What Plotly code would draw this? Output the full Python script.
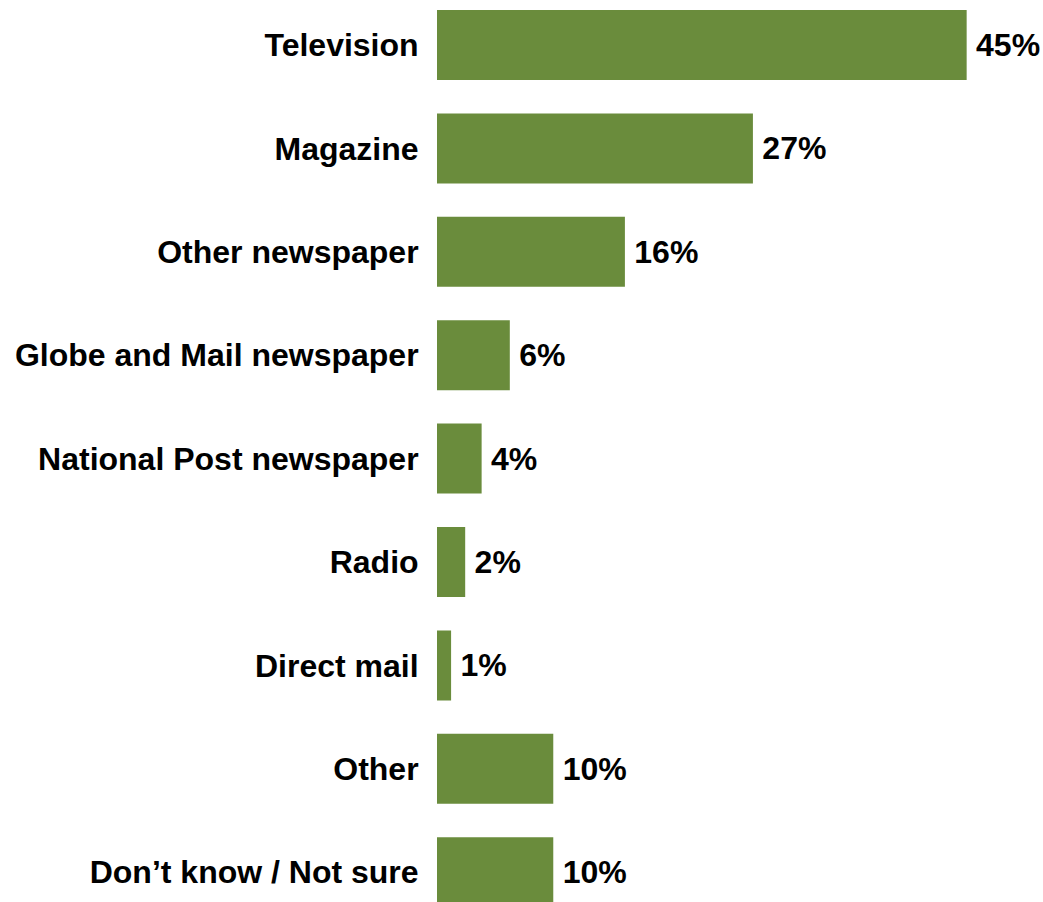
import plotly.graph_objects as go

categories = [
    "Television",
    "Magazine",
    "Other newspaper",
    "Globe and Mail newspaper",
    "National Post newspaper",
    "Radio",
    "Direct mail",
    "Other",
    "Don’t know / Not sure",
]
values = [45.1, 26.9, 16.0, 6.2, 3.8, 2.4, 1.2, 9.9, 9.9]
labels = ["45%", "27%", "16%", "6%", "4%", "2%", "1%", "10%", "10%"]

BAR_COLOR = "#6A8C3C"
FONT = "Liberation Sans, Arial, sans-serif"
FS = 32

fig = go.Figure(
    go.Bar(
        x=values,
        y=categories,
        orientation="h",
        marker=dict(color=BAR_COLOR, line=dict(width=0)),
        text=labels,
        texttemplate="\u2009%{text}",
        textposition="outside",
        textfont=dict(family=FONT, size=FS, color="black", weight="bold"),
        cliponaxis=False,
    )
)

fig.update_layout(
    width=1043,
    height=902,
    margin=dict(l=437, r=0, t=0, b=0),
    paper_bgcolor="white",
    plot_bgcolor="white",
    bargap=0.323,
    showlegend=False,
    font=dict(family=FONT, size=FS, color="black"),
    xaxis=dict(
        range=[0, 51.6],
        visible=False,
        showgrid=False,
        zeroline=False,
    ),
    yaxis=dict(
        type="category",
        categoryorder="array",
        categoryarray=categories,
        range=[8.288, -0.435],
        showgrid=False,
        zeroline=False,
        showline=False,
        ticks="outside",
        ticklen=11,
        tickcolor="rgba(0,0,0,0)",
        tickfont=dict(family=FONT, size=FS, color="black", weight="bold"),
    ),
)

fig.write_html(
    "out.html",
    config={"displayModeBar": False},
    post_script="document.body.style.margin='0';document.body.style.overflow='hidden';",
)
